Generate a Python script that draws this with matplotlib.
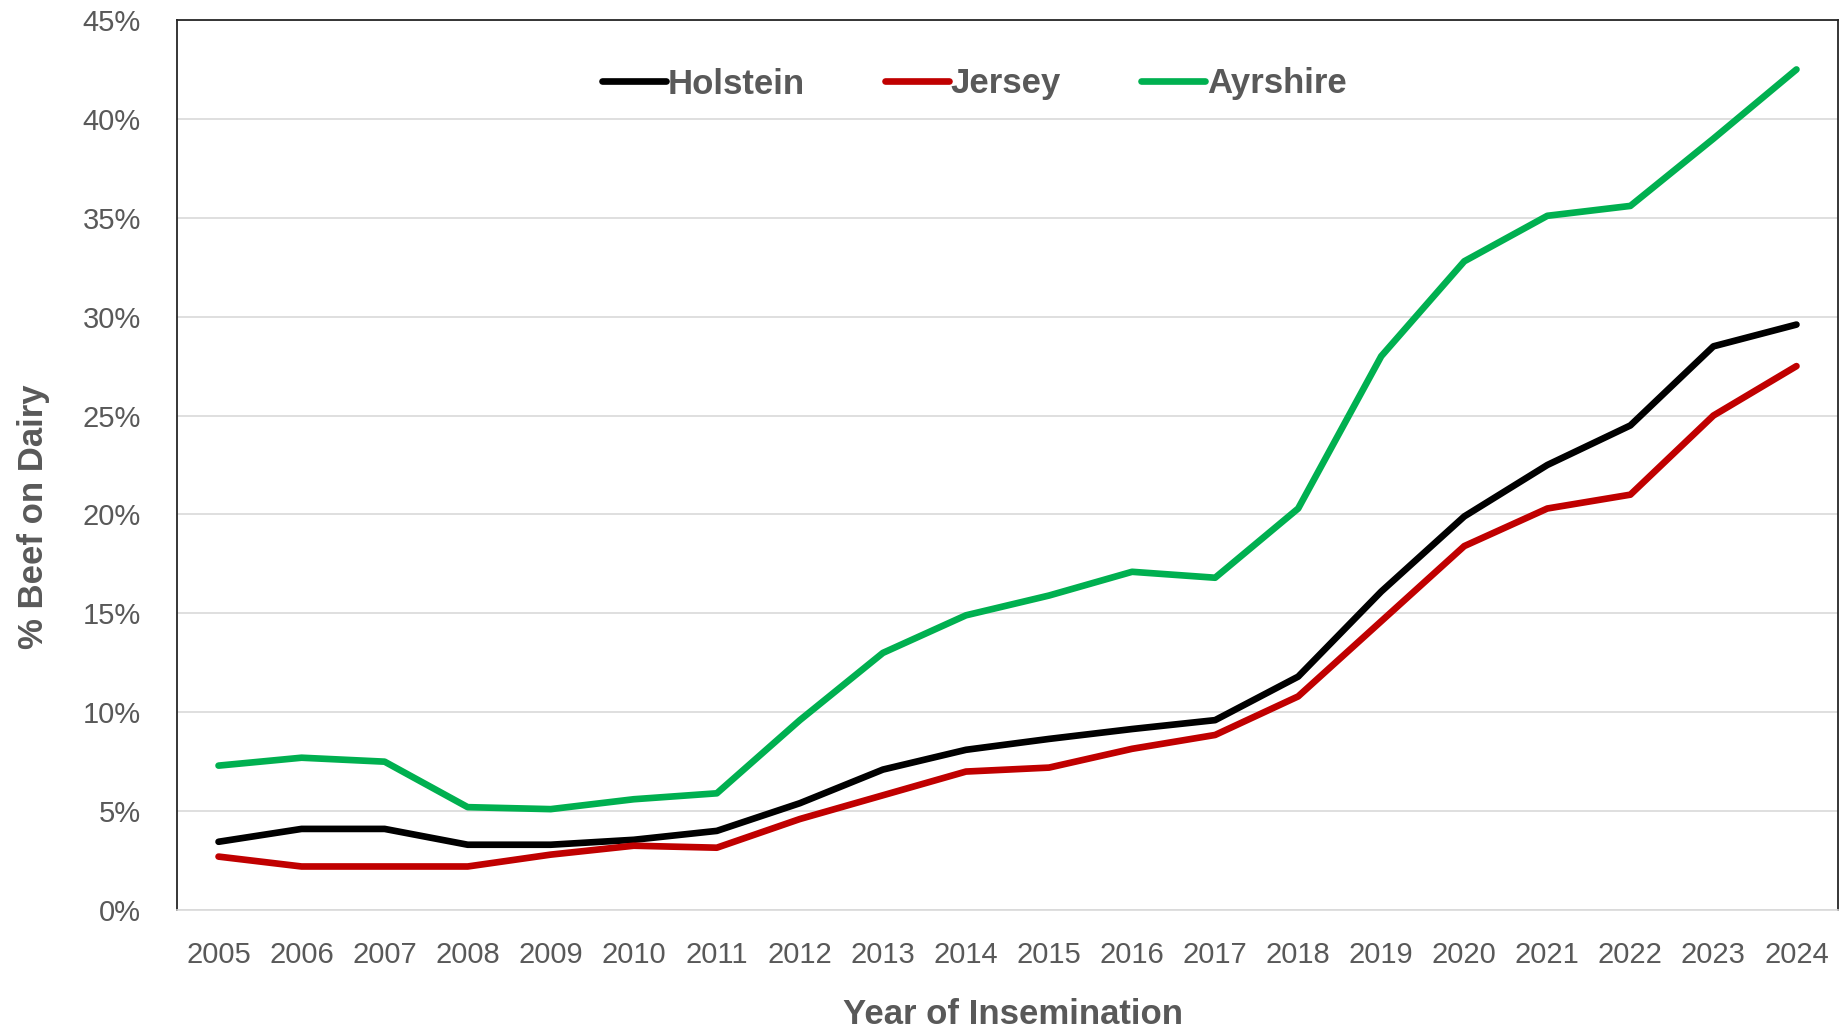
import matplotlib
matplotlib.use("Agg")
import matplotlib.pyplot as plt
from matplotlib.ticker import FuncFormatter, MultipleLocator

years = [str(y) for y in range(2005, 2025)]
holstein = [3.45, 4.1, 4.1, 3.3, 3.3, 3.55, 4.0, 5.4, 7.1, 8.1, 8.65, 9.15, 9.6, 11.8, 16.1, 19.9, 22.5, 24.5, 28.5, 29.6]
jersey = [2.7, 2.2, 2.2, 2.2, 2.8, 3.25, 3.15, 4.6, 5.8, 7.0, 7.2, 8.15, 8.85, 10.8, 14.6, 18.4, 20.3, 21.0, 25.0, 27.5]
ayrshire = [7.3, 7.7, 7.5, 5.2, 5.1, 5.6, 5.9, 9.6, 13.0, 14.9, 15.9, 17.1, 16.8, 20.3, 28.0, 32.8, 35.1, 35.6, 39.0, 42.5]

series_names = ["Holstein", "Jersey", "Ayrshire"]
colors = ["#000000", "#C00000", "#00B050"]

plt.rcParams['font.family'] = ['Liberation Sans', 'DejaVu Sans']
TXT = "#595959"

W, H = 1842, 1031
fig = plt.figure(figsize=(W / 100, H / 100), dpi=100)
ax = fig.add_axes([177 / W, 1 - 910 / H, 1661 / W, 890 / H])

x = list(range(len(years)))
lines = []
for vals, name, c in zip([holstein, jersey, ayrshire], series_names, colors):
    ln, = ax.plot(x, vals, color=c, lw=4.8, solid_capstyle='round',
                  solid_joinstyle='round', label=name, zorder=3)
    lines.append(ln)

ax.set_xlim(-0.5, len(years) - 0.5)
ax.set_ylim(0, 45)
ax.yaxis.set_major_locator(MultipleLocator(5))
ax.yaxis.set_major_formatter(FuncFormatter(lambda v, p: f"{v:.0f}%"))
ax.set_xticks(x)
ax.set_xticklabels(years)

ax.grid(axis='y', color='#D9D9D9', lw=1.2, zorder=0)
ax.set_axisbelow(True)
ax.tick_params(axis='both', length=0, labelsize=21, labelcolor=TXT)
ax.tick_params(axis='x', pad=22)
ax.tick_params(axis='y', pad=26)

for s in ['left', 'top', 'right']:
    ax.spines[s].set_color('#262626')
    ax.spines[s].set_linewidth(1.3)
ax.spines['bottom'].set_color('#D9D9D9')
ax.spines['bottom'].set_linewidth(1.2)

fig.text(1013 / W, 1 - 1015 / H, "Year of Insemination", ha='center', va='center',
         fontsize=25, fontweight='bold', color=TXT)
fig.text(33 / W, 1 - 517 / H, "% Beef on Dairy", ha='center', va='center',
         rotation=90, fontsize=25, fontweight='bold', color=TXT)

fig.legend(handles=lines, loc='center', bbox_to_anchor=(974 / W, 1 - 84 / H),
           ncol=3, frameon=False, handlelength=1.85,
           handletextpad=0.05, columnspacing=2.3, borderpad=0,
           prop={'weight': 'bold', 'size': 25}, labelcolor=TXT)

fig.savefig("out.png", dpi=100)
